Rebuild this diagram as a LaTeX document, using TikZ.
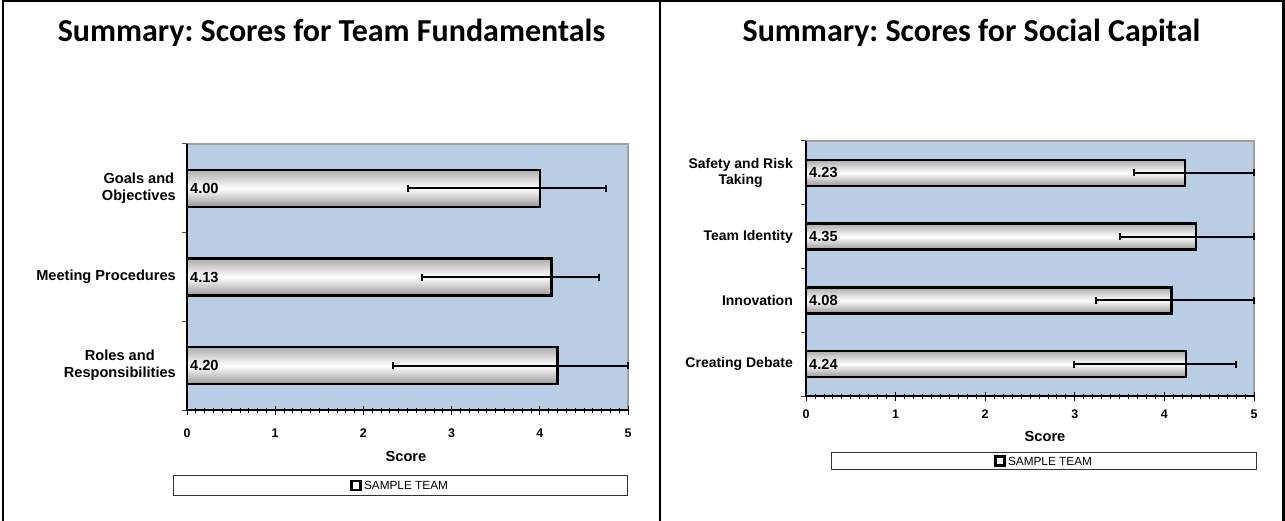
\documentclass[tikz,border=0pt]{standalone}
\usepackage{fontspec}
\setmainfont{Liberation Sans}
\newfontfamily\titlefont{Carlito}
\definecolor{plotbg}{HTML}{B9CDE5}
\definecolor{plotedge}{HTML}{A0A0A0}
\frenchspacing
\begin{document}
\frenchspacing
\begin{tikzpicture}[x=1pt,y=-1pt,
  frame/.style={line width=2.5pt,black},
  charttitle/.style={font=\titlefont\bfseries\fontsize{32}{38}\selectfont, anchor=base, inner sep=0},
  cat/.style={font=\bfseries\fontsize{14.6}{17}\selectfont, align=center, anchor=east, inner sep=0},
  catsmall/.style={cat, font=\bfseries\fontsize{14}{16.5}\selectfont},
  vallab/.style={font=\bfseries\fontsize{14.6}{17}\selectfont, anchor=west, inner sep=0},
  ticklab/.style={font=\bfseries\fontsize{12.5}{14}\selectfont, inner sep=0},
  axtitle/.style={font=\bfseries\fontsize{14.6}{17}\selectfont, inner sep=0},
  bar/.style={draw=black, line width=2.5pt, top color=gray!65, bottom color=gray!80, middle color=white},
  errbar/.style={line width=2pt, black},
  legbox/.style={draw=black!80, line width=1pt, fill=white},
  legtext/.style={font=\fontsize{11.8}{13}\selectfont, inner sep=0},
  legmark/.style={draw=black, line width=2.6pt, fill=white, minimum size=9pt, inner sep=0},
  axisline/.style={line width=1.3pt, black},
  edgeline/.style={line width=1.2pt, plotedge}
]
\useasboundingbox (0,0) rectangle (1285,521);
% frame
\draw[frame] (3,521) -- (3,1.25) -- (1283.5,1.25) -- (1283.5,521);
\draw[frame] (660,1.25) -- (660,521);
% titles
\node[charttitle] (t1) at (331.5,42) {Summary: Scores for Team Fundamentals};
\node[charttitle] (t2) at (971.5,42) {Summary: Scores for Social Capital};

% ---------- left chart ----------
\fill[plotbg] (187,144) rectangle (628,410);
\draw[edgeline] (187,144) -- (628,144) -- (628,410);
\foreach \k in {0,...,50} {
  \pgfmathsetmacro\xt{187+\k*8.82}
  \draw[black, line width=0.8pt] (\xt,407.5) -- (\xt,412.5);
}
\foreach \k in {0,...,5} {
  \pgfmathsetmacro\xt{187+\k*88.2}
  \draw[black, line width=1pt] (\xt,406) -- (\xt,415);
  \node[ticklab] (lx\k) at (\xt,433) {\k};
}
\foreach \k in {0,...,3} {
  \pgfmathsetmacro\yt{144+\k*88.67}
  \draw[black!70, line width=1pt] (182,\yt) -- (187,\yt);
}
\draw[axisline] (187,144) -- (187,410) -- (628,410);
\foreach \lab/\val/\lo/\hi [count=\i] in {{Goals and\\Objectives}/4.00/2.50/4.75,
    {Meeting Procedures}/4.13/2.67/4.67,
    {Roles and\\Responsibilities}/4.20/2.34/5.00} {
  \pgfmathsetmacro\yc{144+(\i-0.5)*88.67}
  \pgfmathsetmacro\xe{187+\val*88.2}
  \pgfmathsetmacro\xl{187+\lo*88.2}
  \pgfmathsetmacro\xh{187+\hi*88.2}
  \shade[bar] (187,\yc-18.5) rectangle (\xe,\yc+18.5);
  \node[vallab] (lv\i) at (190,\yc) {\val};
  \draw[errbar] (\xl,\yc) -- (\xh,\yc);
  \draw[errbar] (\xl,\yc-3.5) -- (\xl,\yc+3.5);
  \draw[errbar] (\xh,\yc-3.5) -- (\xh,\yc+3.5);
  \node[cat] (lc\i) at (176,\yc) {\lab};
}
\node[axtitle] (lscore) at (406,456) {Score};
\node[legbox, minimum width=454pt, minimum height=20pt, inner sep=0] (lleg) at (400,485) {};
\node[legtext] (llt) at (406,485.5) {SAMPLE TEAM};
\node[legmark, anchor=east] (llm) at ([xshift=-2pt]llt.west) {};

% ---------- right chart ----------
\fill[plotbg] (806,141) rectangle (1254,396);
\draw[edgeline] (806,141) -- (1254,141) -- (1254,396);
\foreach \k in {0,...,50} {
  \pgfmathsetmacro\xt{806+\k*8.96}
  \draw[black, line width=0.8pt] (\xt,393.5) -- (\xt,398.5);
}
\foreach \k in {0,...,5} {
  \pgfmathsetmacro\xt{806+\k*89.6}
  \draw[black, line width=1pt] (\xt,392) -- (\xt,401);
  \node[ticklab] (rx\k) at (\xt,414) {\k};
}
\foreach \k in {0,...,4} {
  \pgfmathsetmacro\yt{141+\k*63.75}
  \draw[black!70, line width=1pt] (801,\yt) -- (806,\yt);
}
\draw[axisline] (806,141) -- (806,396) -- (1254,396);
\foreach \lab/\val/\lo/\hi [count=\i] in {{Safety and Risk\\Taking}/4.23/3.66/5.00,
    {Team Identity}/4.35/3.50/5.00,
    {Innovation}/4.08/3.24/5.00,
    {Creating Debate}/4.24/2.99/4.80} {
  \pgfmathsetmacro\yc{141+(\i-0.5)*63.75}
  \pgfmathsetmacro\xe{806+\val*89.6}
  \pgfmathsetmacro\xl{806+\lo*89.6}
  \pgfmathsetmacro\xh{806+\hi*89.6}
  \shade[bar] (806,\yc-13) rectangle (\xe,\yc+13);
  \node[vallab] (rv\i) at (809,\yc) {\val};
  \draw[errbar] (\xl,\yc) -- (\xh,\yc);
  \draw[errbar] (\xl,\yc-3.5) -- (\xl,\yc+3.5);
  \draw[errbar] (\xh,\yc-3.5) -- (\xh,\yc+3.5);
  \node[catsmall] (rc\i) at (793,\yc) {\lab};
}
\node[axtitle] (rscore) at (1045,436) {Score};
\node[legbox, minimum width=425pt, minimum height=17pt, inner sep=0] (rleg) at (1043.5,460.5) {};
\node[legtext] (rlt) at (1050,461) {SAMPLE TEAM};
\node[legmark, anchor=east] (rlm) at ([xshift=-2pt]rlt.west) {};
\end{tikzpicture}
\end{document}
